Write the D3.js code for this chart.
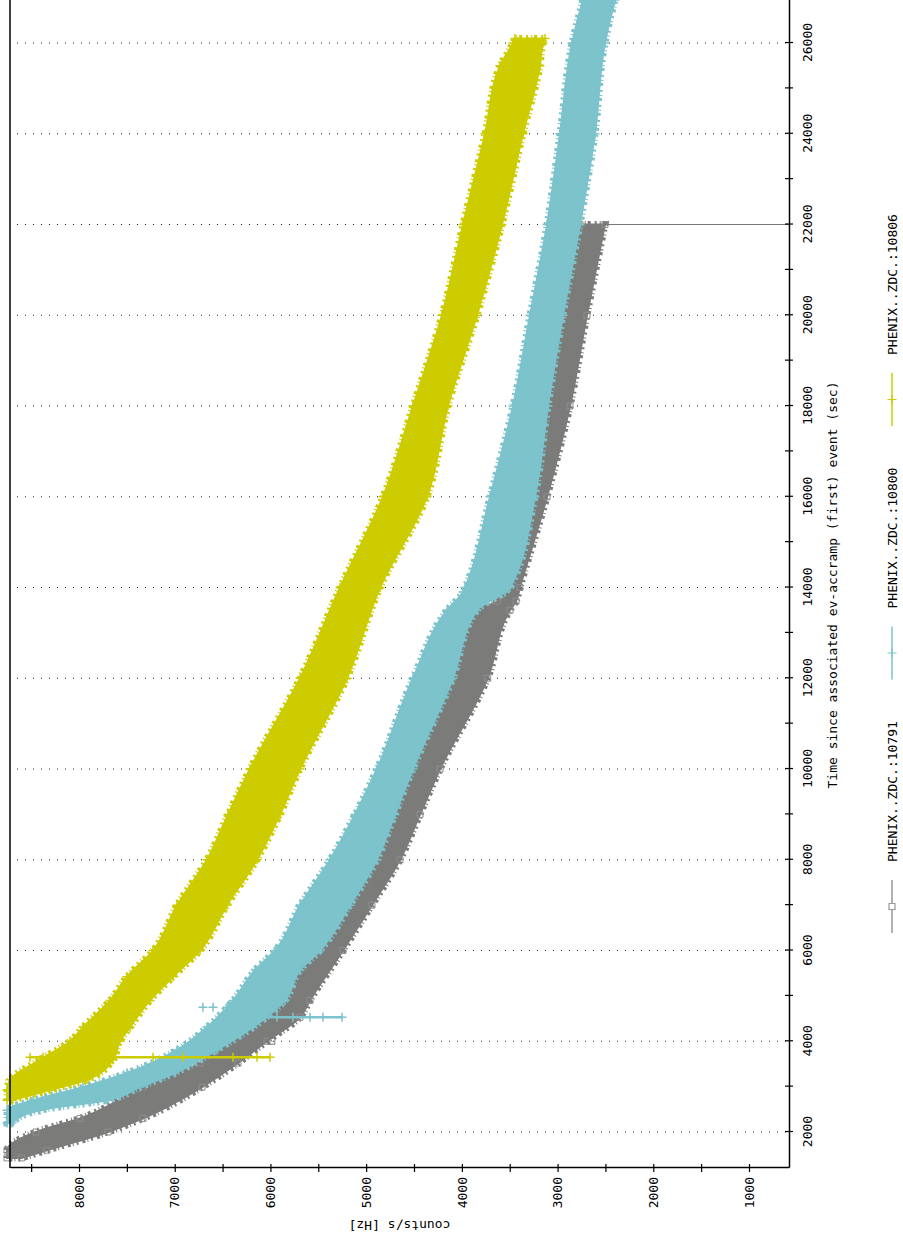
<!DOCTYPE html>
<html>
<head>
<meta charset="utf-8">
<script src="https://cdn.jsdelivr.net/npm/d3@7"></script>
<style>
body { margin: 0; background: #fff; }
text { font-family: "DejaVu Sans Mono", monospace; font-size: 13px; fill: #000; }
</style>
</head>
<body>
<script>
// Data: band edges (upper / lower counts) per time sample

// PHENIX..ZDC.:10791 (gray, squares)
var grayT  = [1430, 1600, 2000, 2300, 2990, 3520, 4000, 4530, 4900, 6000, 7000, 8000, 9000, 10000, 12000, 13500, 13700, 14000, 16000, 18000, 20000, 22000];
var grayHi = [8752, 8752, 8449, 7990, 7331, 6736, 6454, 6140, 5952, 5639, 5273, 4991, 4751, 4542, 4124, 3863, 3633, 3602, 3340, 3131, 2943, 2766];
var grayLo = [8600, 8335, 7697, 7331, 6715, 6339, 6036, 5691, 5587, 5242, 4939, 4646, 4437, 4228, 3730, 3497, 3434, 3393, 3110, 2870, 2693, 2505];

// PHENIX..ZDC.:10800 (cyan, plus)
var cyanT  = [2200, 2480, 2700, 2990, 3300, 3810, 4310, 4900, 5570, 6000, 7000, 8000, 9000, 10000, 12000, 13500, 13900, 14000, 16000, 18000, 20000, 22000, 24000, 26000, 26950];
var cyanHi = [8752, 8752, 8481, 7958, 7499, 6976, 6663, 6391, 6161, 5952, 5691, 5378, 5117, 4887, 4511, 4155, 3988, 3967, 3706, 3466, 3288, 3110, 2975, 2849, 2734];
var cyanLo = [8700, 8408, 7708, 7363, 6997, 6558, 6182, 5848, 5691, 5482, 5169, 4887, 4699, 4511, 4093, 3842, 3549, 3497, 3236, 3100, 2943, 2766, 2609, 2505, 2400];

// PHENIX..ZDC.:10806 (yellow, plus)
var yellowT  = [2700, 2925, 3150, 3590, 4000, 4310, 4900, 5420, 6000, 7000, 8000, 9000, 10000, 12000, 14000, 16000, 18000, 20000, 22000, 24000, 25500, 26000, 26100];
var yellowHi = [8752, 8752, 8721, 8408, 8094, 7958, 7676, 7499, 7227, 6976, 6663, 6443, 6214, 5691, 5273, 4824, 4511, 4208, 3988, 3758, 3602, 3466, 3445];
var yellowLo = [8700, 8303, 7917, 7645, 7572, 7467, 7258, 7018, 6736, 6454, 6140, 5900, 5691, 5200, 4855, 4364, 4145, 3842, 3581, 3361, 3184, 3152, 3131];

// spikes / stray points
var yellowSpikeT = 3650;
var yellowSpikeC = [8512, 8376, 7676, 7227, 6914, 6391, 6140, 6005];
var cyanSpikeT = 4530;
var cyanSpikeC = [6180, 5932, 5764, 5587, 5451, 5252];
var cyanBlobT = [4750, 4750, 4750];
var cyanBlobC = [6705, 6600, 6454];
var grayOutT = 4000, grayOutC = 5985;
var grayDropT = 22000, grayDropC = [2505, 0];

var legendNames = ["PHENIX..ZDC.:10791", "PHENIX..ZDC.:10800", "PHENIX..ZDC.:10806"];
var seriesColors = ["#7b7c7a", "#7cc3cc", "#cccc00"];

var width = 903;
var height = 1245;

var svg = d3.select("body").append("svg")
  .attr("width", width)
  .attr("height", height);

// chart is drawn upright (time along x) then turned a quarter turn
var g = svg.append("g")
  .attr("transform", "translate(0," + height + ") rotate(-90)");

var x = d3.scaleLinear().domain([1207, 26948]).range([77, 1245]);
var y = d3.scaleLinear().domain([582, 8721]).range([789, 10]);

g.append("clipPath").attr("id", "plotclip")
  .append("rect").attr("x", 60).attr("y", 2).attr("width", 1260).attr("height", 787);

// dotted grid at the labelled time ticks
g.append("g").selectAll("line")
  .data(d3.range(2000, 26001, 2000))
  .enter().append("line")
    .attr("x1", x).attr("x2", x)
    .attr("y1", 17).attr("y2", 789)
    .attr("stroke", "#222")
    .attr("stroke-dasharray", "1,7");

var plot = g.append("g").attr("clip-path", "url(#plotclip)");

var area = d3.area()
  .curve(d3.curveMonotoneX)
  .x(function(d) { return x(d.t); })
  .y0(function(d) { return y(d.lo); })
  .y1(function(d) { return y(d.hi); });

var plusPath = "M-4.5,0H4.5M0,-4.5V4.5";
var squarePath = "M-3,-3H3V3H-3Z";

function drawBand(T, hi, lo, color, marker, markColor) {
  var pts = T.map(function(t, i) { return { t: t, hi: hi[i], lo: lo[i] }; });
  plot.append("path").datum(pts)
    .attr("d", area)
    .attr("fill", color)
    .attr("stroke", color)
    .attr("stroke-width", 2);
  // ragged outline imitating the crowd of overlapping markers
  plot.append("path").datum(pts)
    .attr("d", area)
    .attr("fill", "none")
    .attr("stroke", color)
    .attr("stroke-width", 7)
    .attr("stroke-dasharray", "2,3,1,2,3,4");

  var edge = [];
  pts.forEach(function(p) {
    edge.push({ t: p.t, c: p.hi });
    edge.push({ t: p.t, c: p.lo });
  });
  plot.append("g").selectAll("path")
    .data(edge)
    .enter().append("path")
      .attr("transform", function(d) { return "translate(" + x(d.t) + "," + y(d.c) + ")"; })
      .attr("d", marker)
      .attr("fill", "none")
      .attr("stroke", markColor)
      .attr("stroke-width", marker == plusPath ? 1.5 : 1);
}

function drawSpike(t, cs, color, marker) {
  plot.append("line")
    .attr("x1", x(t)).attr("x2", x(t))
    .attr("y1", y(d3.max(cs))).attr("y2", y(d3.min(cs)))
    .attr("stroke", color)
    .attr("stroke-width", 2.5);
  plot.append("g").selectAll("path")
    .data(cs)
    .enter().append("path")
      .attr("transform", function(c) { return "translate(" + x(t) + "," + y(c) + ")"; })
      .attr("d", marker)
      .attr("fill", "none")
      .attr("stroke", color)
      .attr("stroke-width", 1.5);
}

// gray first, cyan over it, yellow on top
drawBand(grayT, grayHi, grayLo, seriesColors[0], squarePath, "#8e8e8e");
plot.append("line")
  .attr("x1", x(grayDropT)).attr("x2", x(grayDropT))
  .attr("y1", y(grayDropC[0])).attr("y2", y(grayDropC[1]))
  .attr("stroke", "#777").attr("stroke-width", 1);
plot.append("path")
  .attr("transform", "translate(" + x(grayOutT) + "," + y(grayOutC) + ")")
  .attr("d", squarePath).attr("fill", "none").attr("stroke", "#777");

drawBand(cyanT, cyanHi, cyanLo, seriesColors[1], plusPath, seriesColors[1]);
drawSpike(cyanSpikeT, cyanSpikeC, seriesColors[1], plusPath);
plot.append("g").selectAll("path")
  .data(cyanBlobC)
  .enter().append("path")
    .attr("transform", function(c, i) { return "translate(" + x(cyanBlobT[i]) + "," + y(c) + ")"; })
    .attr("d", plusPath)
    .attr("stroke", seriesColors[1])
    .attr("stroke-width", 1.5);

drawBand(yellowT, yellowHi, yellowLo, seriesColors[2], plusPath, seriesColors[2]);
drawSpike(yellowSpikeT, yellowSpikeC, seriesColors[2], plusPath);

// frame line opposite the time axis
g.append("line")
  .attr("x1", 77).attr("x2", 1245)
  .attr("y1", 10).attr("y2", 10)
  .attr("stroke", "#000").attr("stroke-width", 1.5);

// time axis
var xAxis = d3.axisBottom(x)
  .tickValues(d3.range(2000, 27000, 1000))
  .tickFormat(function(d) { return d % 2000 ? "" : d; })
  .tickSizeOuter(0);
var gx = g.append("g").attr("transform", "translate(0,789)").call(xAxis);
gx.select(".domain").attr("stroke", "#000").attr("stroke-width", 1.5);
gx.selectAll(".tick line").attr("y1", -4).attr("y2", 4).attr("stroke", "#000").attr("stroke-width", 1.2);
gx.selectAll(".tick text").attr("y", 14);

// counts axis
var yAxis = d3.axisLeft(y)
  .tickValues(d3.range(1000, 8501, 500))
  .tickFormat(function(d) { return d % 1000 ? "" : d; })
  .tickSizeOuter(0);
var gy = g.append("g").attr("transform", "translate(77,0)").call(yAxis);
gy.select(".domain").attr("stroke", "#000").attr("stroke-width", 1.5);
gy.selectAll(".tick line").attr("x1", -4).attr("x2", 4).attr("stroke", "#000").attr("stroke-width", 1.2);
gy.selectAll(".tick text").attr("x", -9);

// axis titles
g.append("text")
  .attr("x", 660).attr("y", 837)
  .attr("text-anchor", "middle")
  .text("Time since associated ev-accramp (first) event (sec)");

g.append("text")
  .attr("transform", "translate(24,399.5) rotate(-90)")
  .attr("text-anchor", "middle")
  .text("counts/s [Hz]");

// legend
var markers = [squarePath, plusPath, plusPath];
var legend = g.append("g").selectAll("g")
  .data(legendNames)
  .enter().append("g")
    .attr("transform", function(d, i) { return "translate(" + (312 + i * 253.5) + ",892)"; });
legend.append("line")
  .attr("x1", 0).attr("x2", 53)
  .attr("stroke", function(d, i) { return i == 0 ? "#999" : seriesColors[i]; })
  .attr("stroke-width", 1.5);
legend.append("path")
  .attr("transform", "translate(26.5,0)")
  .attr("d", function(d, i) { return markers[i]; })
  .attr("fill", function(d, i) { return i == 0 ? "#fff" : "none"; })
  .attr("stroke", function(d, i) { return i == 0 ? "#999" : seriesColors[i]; })
  .attr("stroke-width", 1.2);
legend.append("text")
  .attr("x", 71).attr("y", 5)
  .text(function(d) { return d; });
</script>
</body>
</html>
